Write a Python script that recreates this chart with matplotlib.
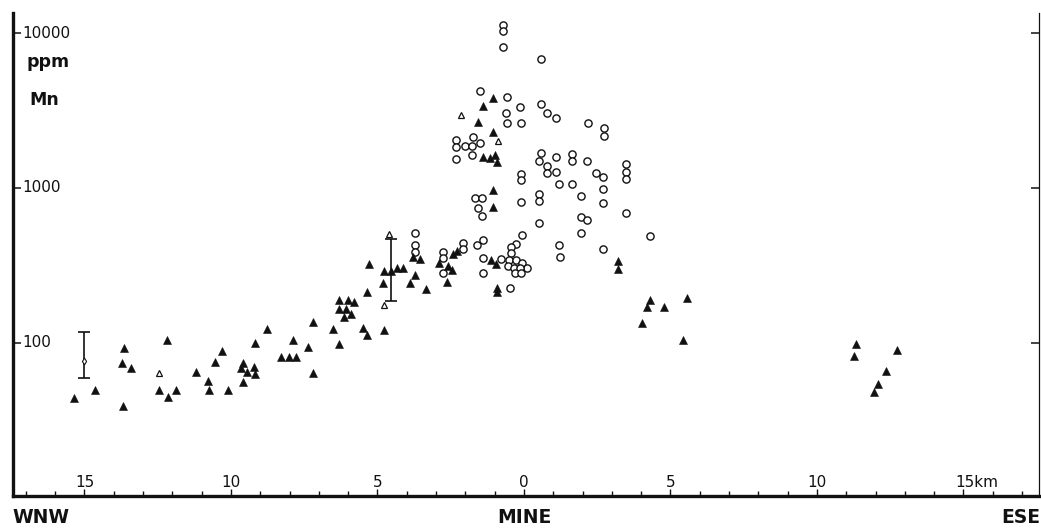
"""Manganese in stream sediments along the WNW-ESE traverse through the mine."""

import matplotlib
matplotlib.use("Agg")
import matplotlib.pyplot as plt
from matplotlib.ticker import FixedLocator, NullLocator


INK = "#111111"

# distance along traverse in km (negative = WNW of the mine), Mn in ppm
circle_km = [
    -0.7, -0.7, -0.7, 0.58, -1.5, -0.58, -0.14, 0.58, 0.78, 1.09,
    -0.61, -0.58, -0.10, 2.18, 2.73, 2.73, -2.32, -2.32, -2.01, -1.77,
    -1.74, -1.50, -2.32, -1.77, 0.58, 0.51, 1.09, 1.64, 1.64, 2.15,
    0.78, 0.78, 1.09, 2.46, 2.70, 3.48, 3.48, 3.48, -0.10, -0.10,
    1.19, 1.64, 2.70, 1.95, 0.51, 0.51, 2.70, 3.48, 1.95, 2.15,
    0.51, 1.95, 1.19, 2.70, 4.30, 1.23, -0.07, -0.27, -0.44, -0.44,
    -0.78, -1.40, -1.60, -2.08, -2.08, -2.76, -2.76, -2.76, -1.40, -1.40,
    -0.48, -1.67, -1.43, -1.57, -1.43, -0.10, -3.72, -3.72, -3.72,
    -0.51, -0.27, -0.07, 0.10, -0.55, -0.34, -0.14, -0.31, -0.10,
]
circle_ppm = [
    11300, 10300, 8100, 6800, 4200, 3850, 3330, 3480, 3050, 2830,
    3050, 2630, 2630, 2630, 2440, 2165, 2040, 1840, 1870, 1870,
    2130, 1950, 1540, 1630, 1680, 1490, 1585, 1660, 1490, 1490,
    1390, 1250, 1270, 1250, 1180, 1430, 1270, 1140, 1230, 1130,
    1060, 1060, 990, 890, 915, 825, 800, 690, 650, 620,
    595, 510, 430, 405, 490, 360, 500, 435, 415, 380,
    350, 460, 430, 440, 405, 385, 355, 283, 355, 283,
    226, 860, 860, 745, 660, 810, 510, 430, 385,
    343, 343, 328, 305, 314, 305, 305, 283, 283,
]

tri_km = [
    -15.36, -14.64, -13.72, -13.65, -13.41, -13.69, -12.46, -12.18, -12.15, -11.88,
    -11.19, -10.78, -10.75, -10.55, -10.31, -10.10, -9.59, -9.66, -9.45, -9.59,
    -9.22, -9.18, -9.18, -8.77, -8.29, -8.02, -7.78, -7.88, -7.20, -7.37,
    -7.20, -6.52, -6.31, -6.31, -6.01, -5.80, -6.31, -6.08, -5.90, -6.14,
    -5.49, -5.36, -4.78, -5.36, -5.29, -4.81, -4.78, -4.54, -4.33, -4.13,
    -3.89, -3.79, -3.55, -3.72, -3.34, -2.90, -2.59, -2.46, -2.63, -2.42,
    -2.29, -1.13, -0.96, -0.92, -0.92, -1.06, -1.06, -1.40, -1.16, -0.99,
    -0.92, -1.06, -1.57, -1.40, -1.06,
    3.21, 3.21, 4.30, 4.20, 4.78, 4.03, 5.56, 5.43,
    11.33, 11.26, 12.73, 12.35, 12.08, 11.95,
]
tri_ppm = [
    44, 50, 74, 93, 69, 39, 50, 104, 45, 50,
    65, 57, 50, 75, 89, 50, 74, 69, 65, 56,
    70, 63, 100, 123, 81, 81, 81, 104, 64, 94,
    137, 123, 98, 189, 189, 184, 166, 166, 154, 147,
    125, 113, 121, 213, 323, 244, 291, 291, 305, 305,
    244, 360, 350, 275, 223, 328, 314, 296, 248, 375,
    390, 343, 323, 226, 213, 755, 970, 1585, 1560, 1630,
    1470, 2300, 2670, 3380, 3810,
    338, 300, 189, 171, 171, 135, 195, 104,
    98, 82, 90, 66, 54, 48,
]

open_tri_km = [-12.46, -4.78, -2.15, -0.89, -4.61]
open_tri_ppm = [64, 176, 2960, 2010, 505]

# replicate spread at two stations: (km, mean, low, high)
spread_km = [-15.02, -4.54]
spread_mid = [76.5, 291]
spread_low = [59.4, 187]
spread_high = [118, 469]

x_ticks = [-15, -10, -5, 0, 5, 10, 15]
x_tick_text = ["15", "10", "5", "0", "5", "10", "15km"]
y_ticks = [100, 1000, 10000]
y_tick_text = ["100", "1000", "10000"]


fig = plt.figure(figsize=(10.41, 5.31), dpi=100)
ax = fig.add_axes([13 / 1041, 1 - 496 / 531, 1026 / 1041, 483 / 531])
ax.set_yscale("log")
ax.set_xlim(-17.44, 17.58)
ax.set_ylim(10.3, 13460)

ax.errorbar(spread_km, spread_mid,
            yerr=[[m - lo for m, lo in zip(spread_mid, spread_low)],
                  [hi - m for m, hi in zip(spread_mid, spread_high)]],
            fmt="none", ecolor=INK, elinewidth=1.2, capsize=4, capthick=1.2, zorder=2)
ax.plot(spread_km[:1], spread_mid[:1], ls="none", marker="d", ms=3.5,
        mfc="white", mec=INK, mew=0.8, zorder=3)

ax.plot(circle_km, circle_ppm, ls="none", marker="o", ms=5.2,
        mfc="white", mec=INK, mew=1.0, zorder=3)
ax.plot(tri_km, tri_ppm, ls="none", marker="^", ms=5.8,
        mfc=INK, mec=INK, mew=0.4, zorder=3)
ax.plot(open_tri_km, open_tri_ppm, ls="none", marker="^", ms=4.8,
        mfc="white", mec=INK, mew=0.9, zorder=3)

for side in ("left", "bottom"):
    ax.spines[side].set_linewidth(2.4)
    ax.spines[side].set_color(INK)
ax.spines["top"].set_visible(False)
ax.spines["right"].set_linewidth(0.9)
ax.spines["right"].set_color(INK)

ax.yaxis.set_major_locator(FixedLocator(y_ticks))
ax.yaxis.set_minor_locator(NullLocator())
ax.xaxis.set_major_locator(FixedLocator(x_ticks))
ax.xaxis.set_minor_locator(FixedLocator([k for k in range(-17, 18) if k % 5]))
ax.tick_params(axis="y", which="major", direction="in", length=6, width=1.1,
               left=True, right=True, labelleft=False, colors=INK)
ax.tick_params(axis="x", which="both", direction="in", width=1.0, colors=INK,
               labelbottom=False)
ax.tick_params(axis="x", which="major", length=5)
ax.tick_params(axis="x", which="minor", length=3.5)

ytf = ax.get_yaxis_transform()
for v, t in zip(y_ticks, y_tick_text):
    ax.text(0.009, v, t, transform=ytf, ha="left", va="center",
            fontsize=11, color=INK)
ax.text(0.013, 0.899, "ppm", transform=ax.transAxes, ha="left", va="center",
        fontsize=12.5, fontweight="bold", color=INK)
ax.text(0.016, 0.82, "Mn", transform=ax.transAxes, ha="left", va="center",
        fontsize=12.5, fontweight="bold", color=INK)

xtf = ax.get_xaxis_transform()
for k, t in zip(x_ticks, x_tick_text):
    if t.endswith("km"):
        ax.text(k - 0.27, 0.012, t, transform=xtf, ha="left", va="bottom",
                fontsize=11, color=INK)
    else:
        ax.text(k, 0.012, t, transform=xtf, ha="center", va="bottom",
                fontsize=11, color=INK)

fig.text(0.0115, 0.026, "WNW", ha="left", va="center", fontsize=13.5,
         fontweight="bold", color=INK)
fig.text(0.504, 0.026, "MINE", ha="center", va="center", fontsize=13.5,
         fontweight="bold", color=INK)
fig.text(0.9995, 0.026, "ESE", ha="right", va="center", fontsize=13.5,
         fontweight="bold", color=INK)

fig.savefig("out.png", dpi=100, facecolor="white")
